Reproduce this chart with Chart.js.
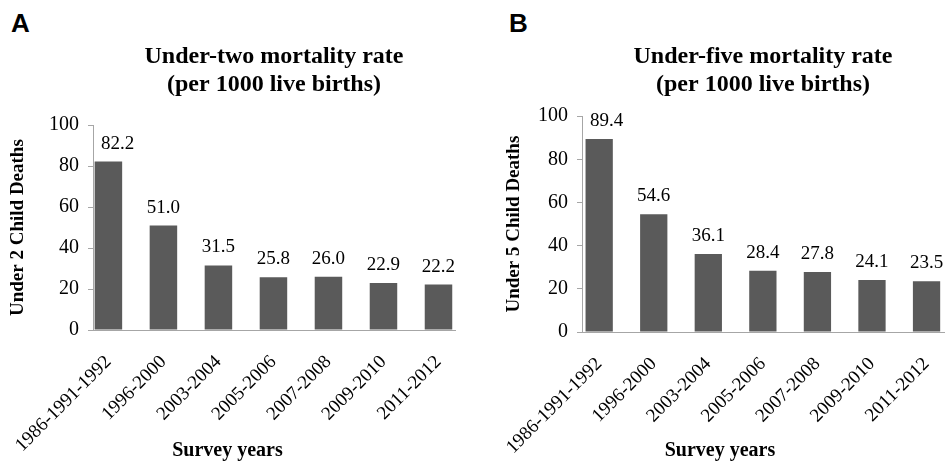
<!DOCTYPE html>
<html>
<head>
<meta charset="utf-8">
<script src="https://cdn.jsdelivr.net/npm/chart.js@4.4.1/dist/chart.umd.min.js"></script>
<style>
    html, body { margin: 0; padding: 0; background: #fff; overflow: hidden; }
    body { width: 946px; height: 462px; position: relative; }
    canvas { position: absolute; top: 0; }
    .panel-letter {
        position: absolute;
        top: 10px;
        font: bold 26px "Liberation Sans", Arial, sans-serif;
        line-height: 1;
        color: #000;
    }
</style>
</head>
<body>
<div class="panel-letter" style="left:11px">A</div>
<div class="panel-letter" style="left:509px">B</div>
<canvas id="chartA" width="473" height="462" style="left:0"></canvas>
<canvas id="chartB" width="480" height="462" style="left:473px"></canvas>
<script>
// Survey rounds and mortality rates (per 1000 live births)
const surveyYears = ['1986-1991-1992', '1996-2000', '2003-2004', '2005-2006', '2007-2008', '2009-2010', '2011-2012'];
const underTwoRates = [82.2, 51.0, 31.5, 25.8, 26.0, 22.9, 22.2];
const underFiveRates = [89.4, 54.6, 36.1, 28.4, 27.8, 24.1, 23.5];
const yAxisMax = 100;
const yAxisStep = 20;

const SERIF = '"Liberation Serif", "Times New Roman", serif';
const AXIS_GRAY = '#a6a6a6';
const BAR_GRAY = '#5a5a5a';

// Draw value above each bar (nudged right if it would sit on the y axis)
const barValueLabels = {
    id: 'barValueLabels',
    afterDatasetsDraw(chart) {
        const ctx = chart.ctx;
        const ds = chart.data.datasets[0];
        ctx.save();
        ctx.font = '19px ' + SERIF;
        ctx.fillStyle = '#000';
        ctx.textAlign = 'center';
        ctx.textBaseline = 'middle';
        chart.getDatasetMeta(0).data.forEach((bar, i) => {
            const text = ds.data[i].y.toFixed(1);
            const half = ctx.measureText(text).width / 2;
            let x = bar.x;
            if (x - half < chart.chartArea.left + 8) x = chart.chartArea.left + 8 + half;
            ctx.fillText(text, x, bar.y - 18);
        });
        ctx.restore();
    }
};

function makeChart(canvasId, titleLines, yLabel, values, layout) {
    const ctx = document.getElementById(canvasId).getContext('2d');
    return new Chart(ctx, {
        type: 'bar',
        data: {
            datasets: [{
                data: values.map((v, i) => ({ x: i, y: v })),
                backgroundColor: BAR_GRAY,
                borderWidth: 0,
                categoryPercentage: 1.0,
                barPercentage: 0.5
            }]
        },
        options: {
            responsive: false,
            animation: false,
            layout: { padding: { left: layout.padLeft, right: layout.padRight, top: 0, bottom: 0 } },
            plugins: {
                legend: { display: false },
                tooltip: { enabled: false },
                title: {
                    display: true,
                    text: titleLines,
                    fullSize: false,
                    color: '#000',
                    font: { family: SERIF, size: 24, weight: 'bold', lineHeight: 1.17 },
                    padding: { top: 43, bottom: layout.titleGap }
                },
                subtitle: {
                    display: true,
                    position: 'bottom',
                    text: 'Survey years',
                    color: '#000',
                    font: { family: SERIF, size: 20, weight: 'bold' },
                    // pulled up so it sits beside the long rotated tick labels
                    padding: { top: layout.xTitleLift, bottom: -1 }
                }
            },
            scales: {
                x: {
                    type: 'linear',
                    min: layout.xMin,
                    max: layout.xMax,
                    offset: false,
                    afterFit: scale => {
                        scale.height = 125;
                        // rotated labels may run under the y axis labels, don't shrink the plot for them
                        scale.paddingLeft = 0;
                        scale.paddingRight = 0;
                    },
                    grid: { display: false, drawTicks: false },
                    border: { display: true, color: AXIS_GRAY },
                    ticks: {
                        stepSize: 1,
                        includeBounds: false,
                        autoSkip: false,
                        minRotation: 45,
                        maxRotation: 45,
                        padding: 21,
                        color: '#000',
                        font: { family: SERIF, size: 19 },
                        callback: value => surveyYears[value] ?? ''
                    }
                },
                y: {
                    min: 0,
                    max: yAxisMax,
                    afterFit: scale => { scale.width = layout.yWidth; },
                    grid: {
                        display: true,
                        drawOnChartArea: false,
                        drawTicks: true,
                        tickLength: 5,
                        color: AXIS_GRAY
                    },
                    border: { display: true, color: AXIS_GRAY },
                    ticks: {
                        stepSize: yAxisStep,
                        padding: 9,
                        color: '#000',
                        font: { family: SERIF, size: 20 }
                    },
                    title: {
                        display: true,
                        text: yLabel,
                        color: '#000',
                        font: { family: SERIF, size: 19, weight: 'bold' },
                        padding: { top: 7, bottom: 0 }
                    }
                }
            }
        },
        plugins: [barValueLabels]
    });
}

makeChart('chartA', ['Under-two mortality rate', '(per 1000 live births)'], 'Under 2 Child Deaths', underTwoRates,
    { padLeft: 0, padRight: 18, yWidth: 93, xTitleLift: -16, titleGap: 26, xMin: -0.28, xMax: 6.30 });

makeChart('chartB', ['Under-five mortality rate', '(per 1000 live births)'], 'Under 5 Child Deaths', underFiveRates,
    { padLeft: 23, padRight: 9, yWidth: 86, xTitleLift: -18, titleGap: 17, xMin: -0.315, xMax: 6.32 });
</script>
</body>
</html>
